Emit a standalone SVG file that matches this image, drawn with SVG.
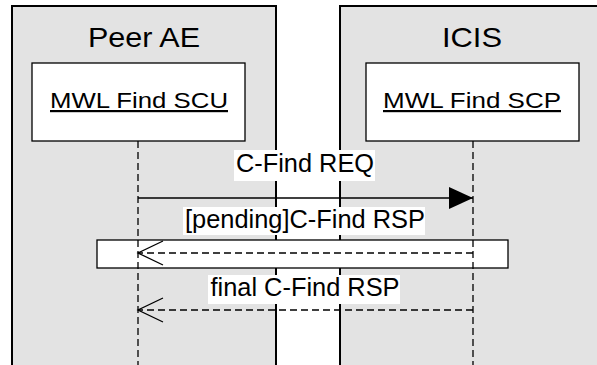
<svg xmlns="http://www.w3.org/2000/svg" width="597" height="365" viewBox="0 0 597 365">
<style>
text{font-family:"Liberation Sans",Arial,sans-serif;fill:#000}
.lane{fill:#e3e3e3;stroke:#000;stroke-width:2}
.title{font-size:28px;text-anchor:middle}
.box{fill:#fff;stroke:#000;stroke-width:1.3}
.obj{font-size:22px;text-anchor:middle;text-decoration:underline}
.life{stroke:#000;stroke-width:1.3;stroke-dasharray:7 4;fill:none}
.msg{stroke:#000;stroke-width:1.3;fill:none}
.ret{stroke:#000;stroke-width:1.3;fill:none;stroke-dasharray:7 4}
.head{stroke:#000;stroke-width:1.3;fill:none}
.lblbg{fill:#fff}
.lbl{font-size:25px;text-anchor:middle}
</style>
<defs>
<marker id="filled" viewBox="0 0 24 22" refX="24" refY="11" markerWidth="24" markerHeight="22" markerUnits="userSpaceOnUse" orient="auto">
<path d="M0,0 L24,11 L0,22 Z" fill="#000"/>
</marker>
</defs>
<g id="lane-peer-ae">
<rect class="lane" x="12" y="6" width="264" height="380"/>
<text class="title" x="144" y="47" textLength="112" lengthAdjust="spacingAndGlyphs">Peer AE</text>
</g>
<g id="lane-icis">
<rect class="lane" x="340" y="6" width="300" height="380"/>
<text class="title" x="472" y="47" textLength="60" lengthAdjust="spacingAndGlyphs">ICIS</text>
</g>
<g id="mwl-find-scu">
<rect class="box" x="32" y="63" width="213" height="78"/>
<text class="obj" x="139" y="108" textLength="178" lengthAdjust="spacingAndGlyphs">MWL Find SCU</text>
</g>
<g id="mwl-find-scp">
<rect class="box" x="366" y="63" width="213" height="78"/>
<text class="obj" x="472" y="108" textLength="178" lengthAdjust="spacingAndGlyphs">MWL Find SCP</text>
</g>
<g id="activation">
<rect class="box" x="97" y="240" width="411" height="28" stroke-width="1.5"/>
</g>
<g id="connectors">
<line class="life" x1="138" y1="141" x2="138" y2="365"/>
<line class="life" x1="473" y1="141" x2="473" y2="365"/>
<line class="msg" x1="138" y1="198" x2="473" y2="198" marker-end="url(#filled)"/>
<line class="ret" x1="473" y1="253" x2="138" y2="253"/>
<polyline class="head" points="163,241 138,253 163,265"/>
<line class="ret" x1="473" y1="310" x2="138" y2="310"/>
<polyline class="head" points="163,298 138,310 163,322"/>
<rect class="lblbg" x="234" y="150" width="141" height="31"/>
<text class="lbl" x="305" y="172" textLength="138" lengthAdjust="spacingAndGlyphs">C-Find REQ</text>
<rect class="lblbg" x="183" y="207" width="242" height="28"/>
<text class="lbl" x="305" y="228" textLength="240" lengthAdjust="spacingAndGlyphs">[pending]C-Find RSP</text>
<rect class="lblbg" x="208" y="275" width="192" height="29"/>
<text class="lbl" x="305" y="296" textLength="189" lengthAdjust="spacingAndGlyphs">final C-Find RSP</text>
</g>
</svg>
